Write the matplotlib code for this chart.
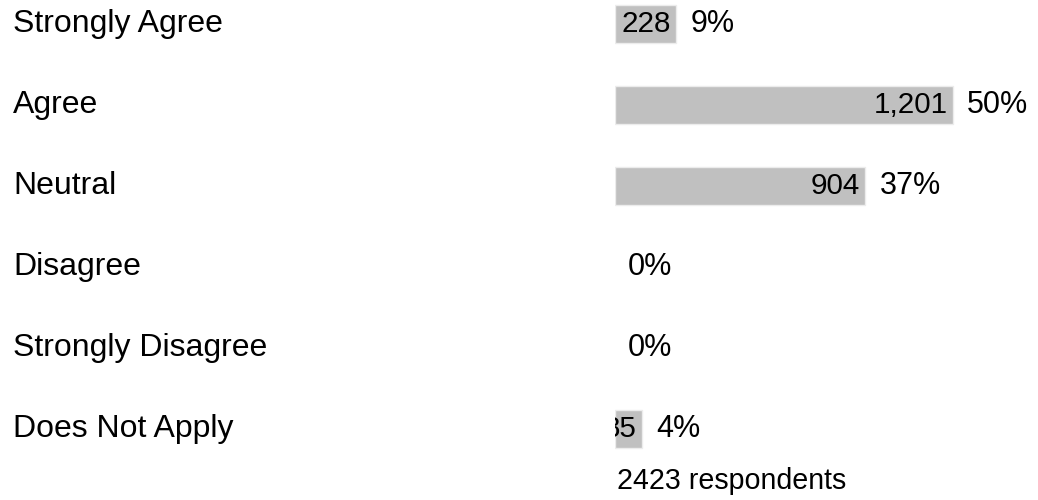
import numpy as np
import matplotlib
matplotlib.use("Agg")
import matplotlib.pyplot as plt
from matplotlib.transforms import blended_transform_factory, offset_copy

plt.rcParams.update({
    "font.family": ["Liberation Sans", "DejaVu Sans"],
    "font.size": 20,
})

# survey responses
categories = ["Strongly Agree", "Agree", "Neutral", "Disagree",
              "Strongly Disagree", "Does Not Apply"]
counts = [228, 1201, 904, 0, 0, 85]
percents = [9, 50, 37, 0, 0, 4]
count_labels = ["228", "1,201", "904", "", "", "85"]
respondents = 2423

W, H = 1038, 500
fig = plt.figure(figsize=(W / 100, H / 100), dpi=100)

# bar area starts at x=615px, 100% would be 676px wide
x0_px, full_px = 615, 676
row_px, first_px = 81, 24
ax = fig.add_axes([x0_px / W, 0, 1 - x0_px / W, 1])
ax.set_xlim(0, 100 * (W - x0_px) / full_px)
ax.set_ylim((H - first_px) / row_px, -first_px / row_px)
ax.axis("off")

y = np.arange(len(categories))
bars = ax.barh(y, percents, height=0.47, color="#c0c0c0",
               edgecolor="#ececec", linewidth=1, left=0)
for bar, p in zip(bars, percents):
    if p == 0:
        bar.set_visible(False)

label_tr = blended_transform_factory(fig.transFigure, ax.transData)
for i, cat in enumerate(categories):
    fig.text(13 / W, y[i], cat, transform=label_tr, ha="left", va="center",
             fontsize=23)

for i, (bar, p) in enumerate(zip(bars, percents)):
    if count_labels[i]:
        t = ax.text(p, y[i], count_labels[i], ha="right", va="center", fontsize=21.3,
                    transform=offset_copy(ax.transData, fig=fig, x=-3.6, y=0, units="points"))
        t.set_clip_on(True)
        t.set_clip_path(bar)
    off = 10.3 if p > 0 else 9.0
    ax.text(p, y[i], f"{p}%", ha="left", va="center", fontsize=22,
            transform=offset_copy(ax.transData, fig=fig, x=off, y=0, units="points"))

ax.text(0, (481 - first_px) / row_px, f"{respondents} respondents", ha="left", va="center",
        fontsize=20.6,
        transform=offset_copy(ax.transData, fig=fig, x=1.5, y=0, units="points"))

fig.savefig("out.png", dpi=100, facecolor="white")
